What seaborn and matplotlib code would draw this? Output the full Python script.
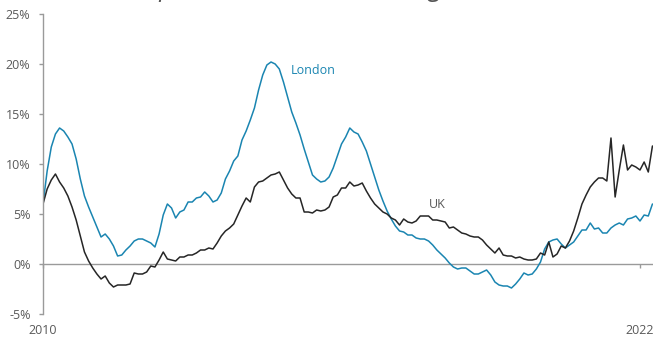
import numpy as np
import pandas as pd
import matplotlib
matplotlib.use("Agg")
import matplotlib.pyplot as plt
import seaborn as sns

# Annual house price growth (%), monthly from Jan 2010 to Apr 2022
london = [
    6.0, 9.3, 11.7, 13.0, 13.6, 13.3, 12.7, 12.0, 10.5, 8.5, 6.8, 5.7,
    4.7, 3.7, 2.7, 3.0, 2.5, 1.8, 0.8, 0.9, 1.4, 1.8, 2.3, 2.5,
    2.5, 2.3, 2.1, 1.7, 3.0, 4.9, 6.0, 5.6, 4.6, 5.2, 5.4, 6.2,
    6.2, 6.6, 6.7, 7.2, 6.8, 6.2, 6.4, 7.1, 8.5, 9.3, 10.3, 10.8,
    12.4, 13.3, 14.4, 15.6, 17.4, 18.9, 19.9, 20.2, 20.0, 19.5, 18.2, 16.7,
    15.2, 14.1, 12.9, 11.5, 10.2, 8.9, 8.5, 8.2, 8.3, 8.7, 9.6, 10.8,
    12.0, 12.7, 13.6, 13.2, 13.0, 12.2, 11.3, 10.0, 8.7, 7.4, 6.3, 5.3,
    4.5, 3.8, 3.3, 3.2, 2.9, 2.9, 2.6, 2.5, 2.5, 2.3, 1.9, 1.4,
    1.0, 0.6, 0.1, -0.3, -0.5, -0.4, -0.4, -0.7, -1.0, -1.0, -0.8, -0.6,
    -1.1, -1.8, -2.1, -2.2, -2.2, -2.4, -2.0, -1.5, -0.9, -1.1, -1.0, -0.5,
    0.2, 1.5, 2.2, 2.4, 2.5, 2.0, 1.6, 1.9, 2.2, 2.8, 3.4, 3.4,
    4.1, 3.5, 3.6, 3.1, 3.1, 3.6, 3.9, 4.1, 3.9, 4.5, 4.6, 4.8,
    4.3, 4.9, 4.8, 6.0,
]
uk = [
    6.0, 7.5, 8.4, 9.0, 8.2, 7.6, 6.8, 5.7, 4.4, 2.8, 1.2, 0.3,
    -0.4, -1.0, -1.5, -1.2, -1.9, -2.3, -2.1, -2.1, -2.1, -2.0, -0.9, -1.0,
    -1.0, -0.8, -0.2, -0.3, 0.4, 1.2, 0.5, 0.4, 0.3, 0.7, 0.7, 0.9,
    0.9, 1.1, 1.4, 1.4, 1.6, 1.5, 2.1, 2.8, 3.3, 3.6, 4.0, 4.9,
    5.8, 6.6, 6.2, 7.7, 8.2, 8.3, 8.6, 8.9, 9.0, 9.2, 8.4, 7.6,
    7.0, 6.6, 6.6, 5.2, 5.2, 5.1, 5.4, 5.3, 5.4, 5.7, 6.7, 6.9,
    7.6, 7.6, 8.2, 7.8, 7.9, 8.1, 7.3, 6.6, 6.0, 5.6, 5.2, 5.0,
    4.6, 4.4, 3.9, 4.5, 4.2, 4.1, 4.3, 4.8, 4.8, 4.8, 4.4, 4.4,
    4.3, 4.2, 3.6, 3.7, 3.4, 3.1, 3.0, 2.8, 2.7, 2.7, 2.4, 1.9,
    1.5, 1.1, 1.6, 0.9, 0.8, 0.8, 0.6, 0.7, 0.5, 0.4, 0.4, 0.5,
    1.1, 0.9, 2.2, 0.7, 1.0, 1.8, 1.6, 2.3, 3.3, 4.6, 6.0, 6.9,
    7.7, 8.2, 8.6, 8.6, 8.3, 12.6, 6.7, 9.4, 11.9, 9.4, 9.9, 9.7,
    9.4, 10.2, 9.2, 11.8,
]
start_year = 2010
year_ticks = [2010, 2022]
y_ticks = [-5, 0, 5, 10, 15, 20, 25]
series_names = ["London", "UK"]
title = "House price rises, London v UK growth"

n = len(london)
df = pd.DataFrame({
    "year": start_year + np.arange(n) / 12.0,
    "London": london,
    "UK": uk,
}).melt(id_vars="year", var_name="area", value_name="growth")

sns.set_theme(style="white")
plt.rcParams["font.family"] = ["Open Sans", "DejaVu Sans"]

blue = "#1a85b1"
dark = "#262626"
grey_text = "#595959"
axis_grey = "#9a9a9a"

fig = plt.figure(figsize=(6.53, 3.40), dpi=100)
ax = fig.add_axes([43 / 653, 26 / 340, 610 / 653, 300 / 340])

sns.lineplot(data=df, x="year", y="growth", hue="area", hue_order=series_names,
             palette={"London": blue, "UK": dark}, linewidth=1.1,
             legend=False, ax=ax)

ax.set_xlim(start_year, start_year + 610 / 49.75)
ax.set_ylim(-5, 25)
ax.set_yticks(y_ticks)
ax.set_yticklabels([f"{v}%" for v in y_ticks])
ax.set_xticks(year_ticks)
ax.set_xticklabels([str(y) for y in year_ticks])
ax.set_xlabel("")
ax.set_ylabel("")

for s in ["top", "right"]:
    ax.spines[s].set_visible(False)
ax.spines["left"].set_color(axis_grey)
ax.spines["left"].set_linewidth(1.0)
ax.spines["bottom"].set_position(("data", 0))
ax.spines["bottom"].set_color(axis_grey)
ax.spines["bottom"].set_linewidth(1.0)
ax.spines["bottom"].set_zorder(0)

ax.tick_params(axis="y", which="both", left=True, length=3, width=1.0,
               color=axis_grey, labelcolor=grey_text, labelsize=9, pad=6)
ax.tick_params(axis="x", which="both", bottom=True, length=3, width=1.0,
               color=axis_grey, labelcolor=grey_text, labelsize=9, pad=40)

ax.text(2010 + 248 / 49.75, 19.3, "London", color=blue, fontsize=9,
        ha="left", va="center")
ax.text(2010 + 386 / 49.75, 5.9, "UK", color=grey_text, fontsize=9,
        ha="left", va="center")

# headline sits above the canvas; only its descenders reach into view
fig.text(84 / 653, 1 + 4 / 340, title,
         fontsize=18, style="italic", color="#555555", ha="left",
         va="baseline")

fig.savefig("out.png", dpi=100)
